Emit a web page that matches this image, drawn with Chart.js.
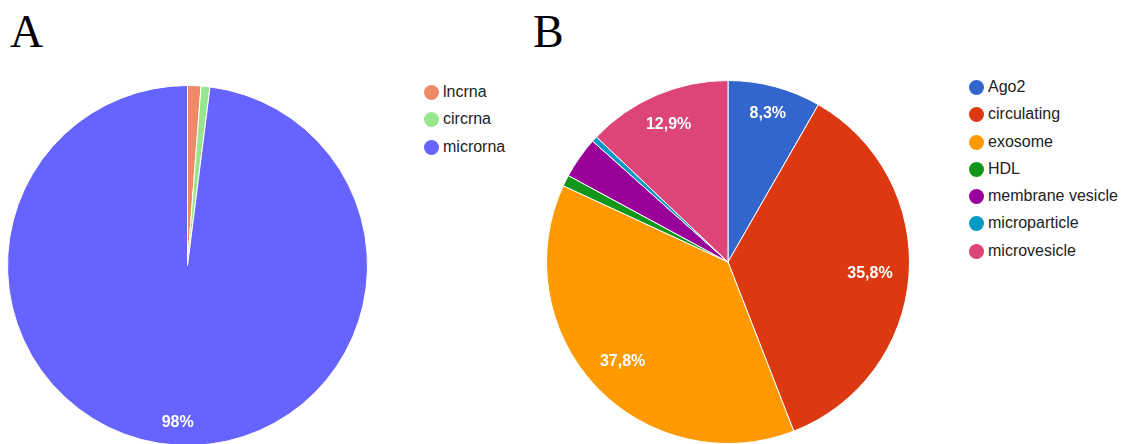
<!DOCTYPE html>
<html>
<head>
<meta charset="utf-8">
<script src="https://cdn.jsdelivr.net/npm/chart.js@4"></script>
<style>
  body { margin: 0; background: #fff; width: 1129px; height: 444px; overflow: hidden; position: relative; font-family: "Liberation Sans", Arial, sans-serif; }
  .panel-title { position: absolute; font-family: "Liberation Serif", "Times New Roman", serif; font-size: 46px; color: #000; line-height: 1; }
  .pie-box { position: absolute; }
  .legend { position: absolute; margin: 0; padding: 0; list-style: none; font-size: 16px; color: #222; }
  .legend li { position: relative; height: 27.3px; line-height: 16px; padding-left: 19px; white-space: nowrap; }
  .legend li span { position: absolute; left: 0; top: 1px; width: 15px; height: 15px; border-radius: 50%; }
</style>
</head>
<body>
<div class="panel-title" style="left:10px; top:9px;">A</div>
<div class="panel-title" style="left:533px; top:9px;">B</div>

<div class="pie-box" style="left:7px; top:85px; width:361px; height:361px;"><canvas id="pieA"></canvas></div>
<div class="pie-box" style="left:546px; top:80px; width:364px; height:364px;"><canvas id="pieB"></canvas></div>

<ul class="legend" id="legendA" style="left:424px; top:84px;"></ul>
<ul class="legend" id="legendB" style="left:969px; top:79px;"></ul>

<script>
// panel A: RNA type
const rnaLabels = ["lncrna", "circrna", "microrna"];
const rnaValues = [1.2, 0.8, 98.0];
const rnaColors = ["#ef8a68", "#98e590", "#6663ff"];

// panel B: carrier type
const carrierLabels = ["Ago2", "circulating", "exosome", "HDL", "membrane vesicle", "microparticle", "microvesicle"];
const carrierValues = [8.3, 35.8, 37.8, 1.0, 3.7, 0.5, 12.9];
const carrierColors = ["#3366cc", "#dc3912", "#ff9900", "#109618", "#990099", "#0099c6", "#dd4477"];

// percentages inside big slices, like google charts does
const sliceText = {
    id: "sliceText",
    afterDatasetsDraw(chart) {
        const ctx = chart.ctx;
        const data = chart.data.datasets[0].data;
        const total = data.reduce((a, b) => a + b, 0);
        const arcs = chart.getDatasetMeta(0).data;
        ctx.save();
        ctx.font = "bold 16px 'Liberation Sans', Arial, sans-serif";
        ctx.fillStyle = "#fff";
        ctx.textAlign = "center";
        ctx.textBaseline = "middle";
        arcs.forEach((arc, i) => {
            const pct = data[i] / total * 100;
            if (pct < 5) return;
            let txt = pct.toFixed(1).replace(".", ",");
            if (txt.endsWith(",0")) txt = txt.slice(0, -2);
            txt += "%";
            const mid = (arc.startAngle + arc.endAngle) / 2;
            const w = ctx.measureText(txt).width;
            const ext = Math.abs(Math.cos(mid)) * w / 2 + Math.abs(Math.sin(mid)) * 6.5;
            const r = arc.outerRadius - 16 - ext;
            ctx.fillText(txt, arc.x + Math.cos(mid) * r, arc.y + Math.sin(mid) * r + 1);
        });
        ctx.restore();
    }
};

function makePie(id, labels, values, colors) {
    new Chart(document.getElementById(id), {
        type: "pie",
        data: {
            labels: labels,
            datasets: [{
                data: values,
                backgroundColor: colors,
                borderColor: "#ffffff",
                borderWidth: 1,
                hoverOffset: 0
            }]
        },
        options: {
            responsive: true,
            maintainAspectRatio: false,
            animation: false,
            layout: { padding: 0 },
            plugins: {
                legend: { display: false },
                tooltip: { enabled: false }
            }
        },
        plugins: [sliceText]
    });
}

function makeLegend(id, labels, colors) {
    const ul = document.getElementById(id);
    labels.forEach((name, i) => {
        const li = document.createElement("li");
        li.innerHTML = `<span style="background:${colors[i]}"></span>${name}`;
        ul.appendChild(li);
    });
}

makePie("pieA", rnaLabels, rnaValues, rnaColors);
makePie("pieB", carrierLabels, carrierValues, carrierColors);
makeLegend("legendA", rnaLabels, rnaColors);
makeLegend("legendB", carrierLabels, carrierColors);
</script>
</body>
</html>
